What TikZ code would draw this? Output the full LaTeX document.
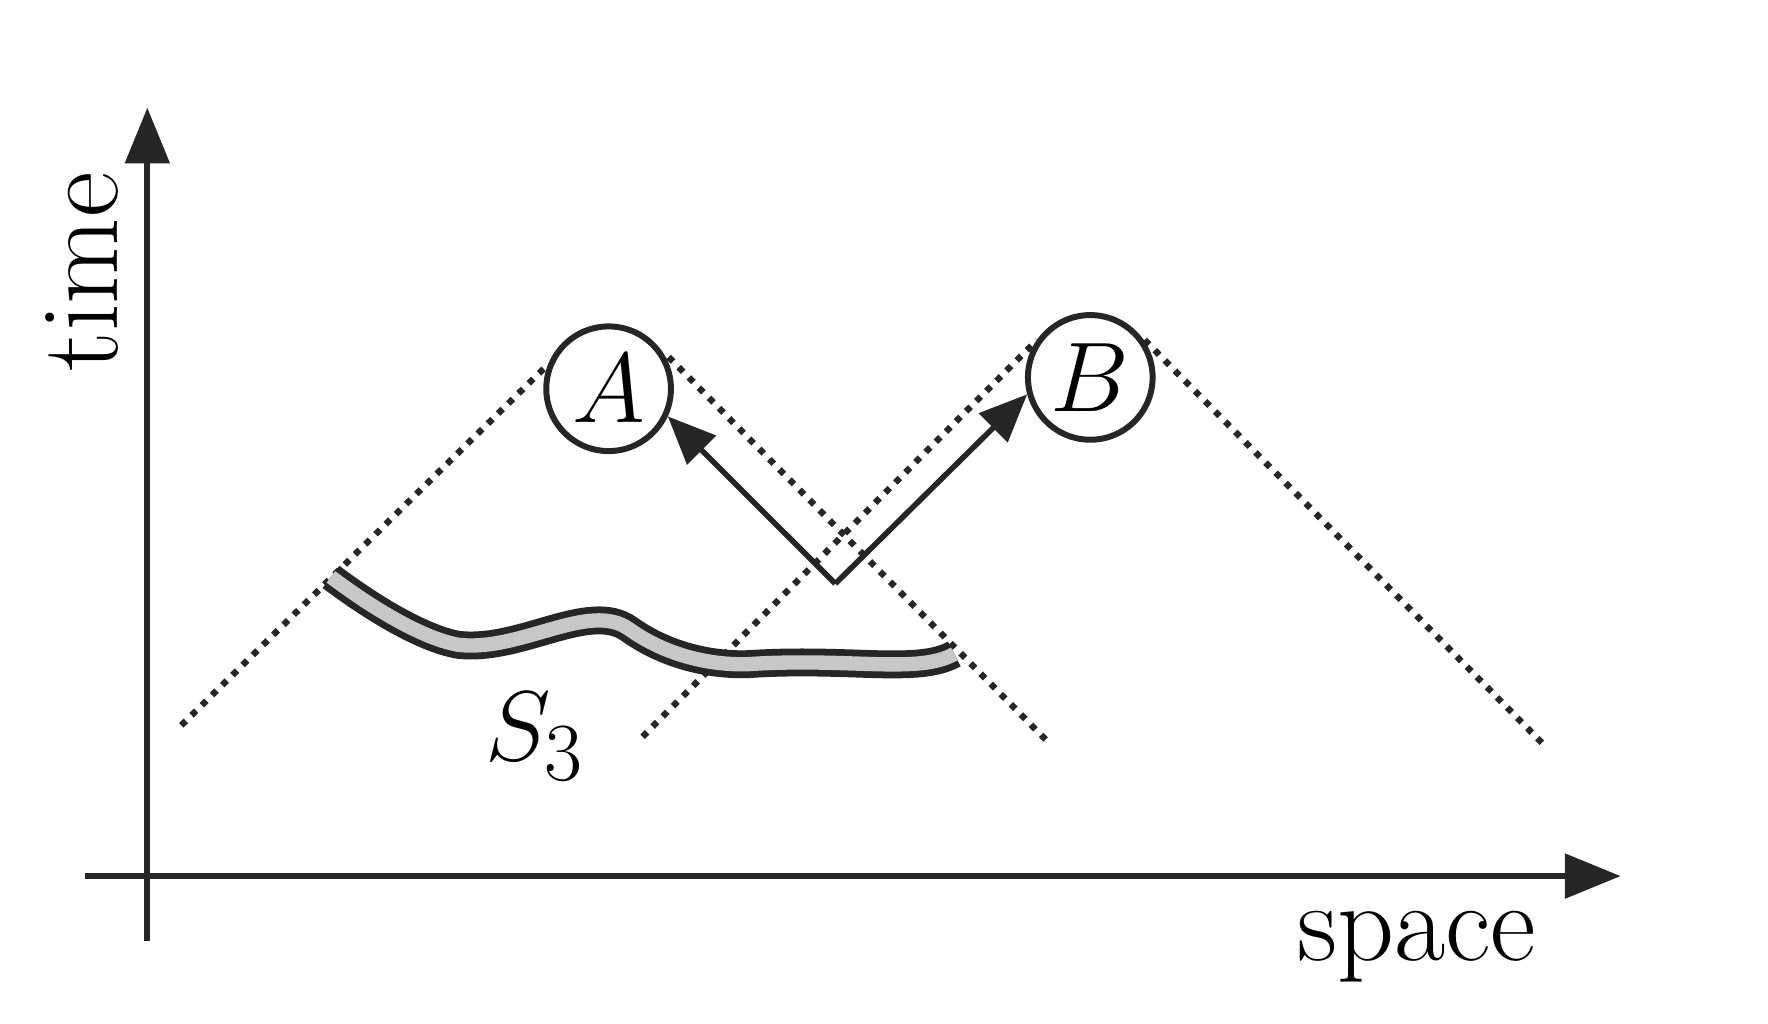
\documentclass[tikz,border=0pt]{standalone}
\usetikzlibrary{arrows.meta}

\begin{document}
\begin{tikzpicture}[x=1cm, y=-1cm, % pixel-like coordinates, 100px per unit
	axis/.style={line width=1.5pt, draw=black!85, -{Triangle[length=14pt,width=11pt]}},
	cone/.style={line width=1.6pt, draw=black!85, dotted},
	event/.style={circle, draw=black!85, line width=1.5pt, minimum size=1.1cm, inner sep=0pt, font=\fontsize{28}{30}\selectfont\itshape},
	signal/.style={line width=1.4pt, draw=black!85, -{Triangle[length=12pt,width=10pt]}},
	lbl/.style={font=\fontsize{28}{32}\selectfont}]
\useasboundingbox (0,0) rectangle (15.6,9.03);
% axes
\coordinate (tlow) at (1.30,8.30);
\coordinate (ttop) at (1.30,0.95);
\coordinate (sleft) at (0.75,7.73);
\coordinate (sright) at (14.30,7.73);
\draw[axis] (tlow) -- (ttop);
\draw[axis] (sleft) -- (sright);
\node[lbl, rotate=90] (time) at (0.72,2.40) {time};
\node[lbl] (space) at (12.50,8.35) {space};
% events
\node[event] (A) at (5.37,3.43) {$A$};
\node[event] (B) at (9.62,3.33) {$B$};
% light cones
\draw[cone] (1.60,6.40) -- (4.80,3.25);
\draw[cone] (5.90,3.15) -- (9.25,6.55);
\draw[cone] (5.67,6.50) -- (9.15,3.00);
\draw[cone] (10.10,3.00) -- (13.65,6.60);
% signals
\coordinate (V) at (7.37,5.15);
\draw[signal] (V) -- (A.335);
\draw[signal] (V) -- (B.195);
% surface S3
\draw[line width=7pt, black!85] (2.92,5.09) .. controls (3.40,5.45) and (3.80,5.65) .. (4.05,5.69)
	.. controls (4.60,5.75) and (5.20,5.30) .. (5.55,5.55)
	.. controls (5.90,5.80) and (6.30,5.87) .. (6.60,5.86)
	.. controls (7.50,5.80) and (8.10,5.95) .. (8.42,5.77);
\draw[line width=3.6pt, black!22] (2.92,5.09) .. controls (3.40,5.45) and (3.80,5.65) .. (4.05,5.69)
	.. controls (4.60,5.75) and (5.20,5.30) .. (5.55,5.55)
	.. controls (5.90,5.80) and (6.30,5.87) .. (6.60,5.86)
	.. controls (7.50,5.80) and (8.10,5.95) .. (8.42,5.77);
\node[lbl] (S) at (4.72,6.50) {$S_3$};
\end{tikzpicture}
\end{document}
